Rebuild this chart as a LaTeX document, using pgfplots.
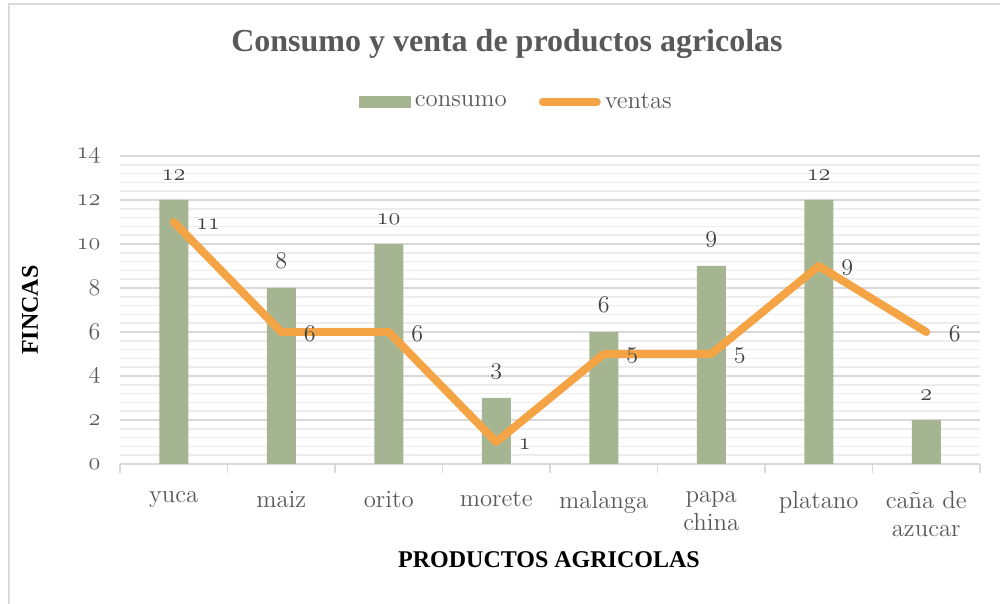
\documentclass[border=0pt]{standalone}
\usepackage{pgfplots}
\pgfplotsset{compat=1.18}
\usepackage{fontspec}
\newfontfamily\tnr{Liberation Serif}
\newcommand\osf[1]{{\fontencoding{OML}\fontfamily{cmm}\fontseries{m}\fontshape{it}\selectfont #1}}
\definecolor{barG}{HTML}{A5B592}
\definecolor{lineO}{HTML}{F4A445}
\definecolor{txtG}{HTML}{595959}
\definecolor{lblG}{HTML}{404040}
\definecolor{gridM}{HTML}{D9D9D9}
\definecolor{gridm}{HTML}{EDEDED}

\begin{document}
\begin{tikzpicture}[x=1pt,y=1pt]
\useasboundingbox (0,0) rectangle (500,302);
% chart frame (only top and left visible)
\draw[gridM, line width=1.2pt] (4.5,0) -- (4.5,300) -- (500,300);
\begin{axis}[
    at={(60pt,70pt)}, anchor=south west,
    scale only axis,
    width=430pt, height=154pt,
    xmin=-0.5, xmax=7.5,
    ymin=0, ymax=14,
    xtick={0,...,7},
    xticklabels={yuca,maiz,orito,morete,malanga,{papa\\china},platano,{caña de\\azucar}},
    xticklabel style={align=center, font=\fontsize{12.4}{14}\selectfont, text=txtG, yshift=-6pt, anchor=north},
    minor xtick={-0.5,0.5,...,7.5},
    tick align=outside,
    minor tick length=4.5pt,
    minor x tick style={gridM, line width=0.8pt},
    major x tick style={draw=none},
    ytick={0,2,...,14},
    yticklabel={\osf{\pgfmathprintnumber[assume math mode=true]{\tick}}},
    yticklabel style={font=\fontsize{11.5}{12}\selectfont, text=txtG, xshift=-2pt},
    minor y tick num=4,
    ymajorgrids, yminorgrids,
    major grid style={gridM, line width=0.8pt},
    minor grid style={gridm, line width=0.8pt},
    major y tick style={draw=none},
    minor y tick style={draw=none},
    axis x line*=bottom,
    axis y line*=left,
    x axis line style={gridM, line width=0.8pt, -},
    y axis line style={draw=none},
    clip=false,
    legend style={at={(0.462,1.175)}, anchor=center, draw=none, fill=none,
        legend columns=2, font=\fontsize{12.4}{14}\selectfont, text=txtG,
        /tikz/every even column/.append style={column sep=14pt}},
]
\addplot[ybar, bar width=14.5pt, fill=barG, draw=none,
    nodes near coords={\osf{\pgfmathprintnumber[assume math mode=true]{\pgfplotspointmeta}}},
    nodes near coords style={font=\fontsize{12.4}{14}\selectfont, text=lblG, yshift=6pt},
    area legend,
    legend image code/.code={\fill[barG] (0pt,-2.8pt) rectangle (26pt,3pt);}]
  coordinates {(0,12) (1,8) (2,10) (3,3) (4,6) (5,9) (6,12) (7,2)};
\addlegendentry{consumo}
\addplot[lineO, line width=4pt, line cap=round, line join=round,
    nodes near coords={\osf{\pgfmathprintnumber[assume math mode=true]{\pgfplotspointmeta}}},
    nodes near coords style={font=\fontsize{12.4}{14}\selectfont, text=lblG, anchor=west, xshift=6pt, yshift=-1pt},
    legend image code/.code={\draw[lineO, line width=4pt, line cap=round] (0pt,0pt) -- (27pt,0pt);}]
  coordinates {(0,11) (1,6) (2,6) (3,1) (4,5) (5,5) (6,9) (7,6)};
\addlegendentry{ventas}
\end{axis}
\node[font=\tnr\bfseries\fontsize{16}{18}\selectfont, text=txtG] at (253.5,280) {Consumo y venta de productos agricolas};
\node[font=\tnr\bfseries\fontsize{12}{14}\selectfont, rotate=90] at (15,147) {FINCAS};
\node[font=\tnr\bfseries\fontsize{12}{14}\selectfont] at (274.5,22) {PRODUCTOS AGRICOLAS};
\end{tikzpicture}
\end{document}
